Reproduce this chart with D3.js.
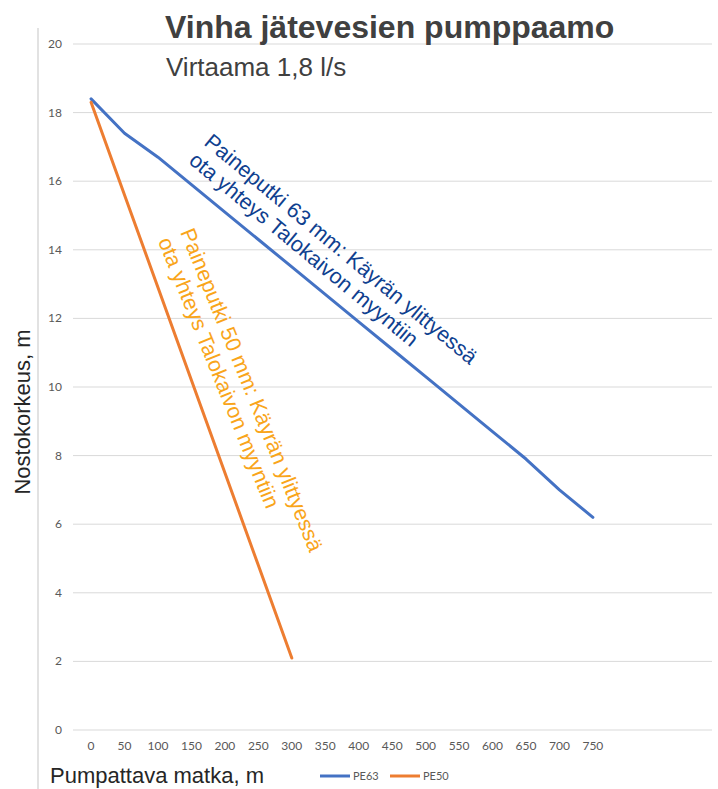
<!DOCTYPE html>
<html>
<head>
<meta charset="utf-8">
<title>Vinha jätevesien pumppaamo</title>
<style>
  body { margin: 0; padding: 0; background: #fff; }
  svg { display: block; }
</style>
</head>
<body>
<div id="chart"></div>
<script src="https://cdnjs.cloudflare.com/ajax/libs/d3/7.8.5/d3.min.js"></script>
<script>
// distances (m) and heads (m)
var distances = [0, 50, 100, 150, 200, 250, 300, 350, 400, 450, 500, 550, 600, 650, 700, 750];
var pe63 = [18.4, 17.4, 16.7, 15.9, 15.1, 14.3, 13.5, 12.7, 11.9, 11.1, 10.3, 9.5, 8.7, 7.9, 7.0, 6.2];
var pe50Distances = [0, 50, 100, 150, 200, 250, 300];
var pe50 = [18.3, 15.6, 12.9, 10.2, 7.5, 4.8, 2.1];
var yTicks = [0, 2, 4, 6, 8, 10, 12, 14, 16, 18, 20];
var seriesNames = ["PE63", "PE50"];

var width = 718, height = 789;
var blue = "#4472C4", orange = "#ED7D31";

var svg = d3.select("#chart").append("svg")
    .attr("width", width)
    .attr("height", height);

var x = d3.scaleLinear().domain([-27, 928]).range([73, 712]);
var y = d3.scaleLinear().domain([0, 20]).range([730, 44]);

// left frame line
svg.append("line")
    .attr("x1", 38).attr("x2", 38)
    .attr("y1", 28).attr("y2", height)
    .attr("stroke", "#d9d9d9").attr("stroke-width", 1.5);

// gridlines
svg.selectAll(".grid").data(yTicks).enter().append("line")
    .attr("x1", x(-27)).attr("x2", x(928))
    .attr("y1", function(d) { return y(d); })
    .attr("y2", function(d) { return y(d); })
    .attr("stroke", "#d9d9d9").attr("stroke-width", 1);

// y tick labels
svg.selectAll(".ylab").data(yTicks).enter().append("text")
    .attr("x", 62)
    .attr("y", function(d) { return y(d) + 4; })
    .attr("text-anchor", "end")
    .style("font", "12px Lato, 'Open Sans', sans-serif")
    .style("fill", "#595959")
    .text(function(d) { return d; });

// x tick labels
svg.selectAll(".xlab").data(distances).enter().append("text")
    .attr("x", function(d) { return x(d); })
    .attr("y", 750)
    .attr("text-anchor", "middle")
    .style("font", "12px Lato, 'Open Sans', sans-serif")
    .style("fill", "#595959")
    .text(function(d) { return d; });

var line = d3.line()
    .x(function(d) { return x(d[0]); })
    .y(function(d) { return y(d[1]); });

svg.append("path")
    .datum(d3.zip(distances, pe63))
    .attr("d", line)
    .attr("fill", "none")
    .attr("stroke", blue)
    .attr("stroke-width", 3)
    .attr("stroke-linejoin", "round")
    .attr("stroke-linecap", "round");

svg.append("path")
    .datum(d3.zip(pe50Distances, pe50))
    .attr("d", line)
    .attr("fill", "none")
    .attr("stroke", orange)
    .attr("stroke-width", 3)
    .attr("stroke-linejoin", "round")
    .attr("stroke-linecap", "round");

// titles
svg.append("text")
    .attr("x", 165).attr("y", 38)
    .style("font", "bold 32px 'Liberation Sans', Arial, sans-serif")
    .style("fill", "#404040")
    .text("Vinha jätevesien pumppaamo");

svg.append("text")
    .attr("x", 166).attr("y", 76)
    .style("font", "26px 'Liberation Sans', Arial, sans-serif")
    .style("fill", "#404040")
    .text("Virtaama 1,8 l/s");

svg.append("text")
    .attr("x", 50).attr("y", 783)
    .style("font", "22px 'Liberation Sans', Arial, sans-serif")
    .style("fill", "#262626")
    .text("Pumpattava matka, m");

svg.append("text")
    .attr("transform", "translate(30,412) rotate(-90)")
    .attr("text-anchor", "middle")
    .style("font", "22px 'Liberation Sans', Arial, sans-serif")
    .style("fill", "#262626")
    .text("Nostokorkeus, m");

// annotations
function note(px, py, angle, color, lines) {
  var g = svg.append("g")
      .attr("transform", "translate(" + px + "," + py + ") rotate(" + angle + ")");
  lines.forEach(function(t, i) {
    g.append("text")
        .attr("x", 0).attr("y", i * 24)
        .style("font", "21.5px 'Liberation Sans', Arial, sans-serif")
        .style("fill", color)
        .text(t);
  });
}
note(203, 144, 39.7, "#0F3F8F", ["Paineputki 63 mm: Käyrän ylittyessä", "ota yhteys Talokaivon myyntiin"]);
note(180, 232, 68, "#F9A51A", ["Paineputki 50 mm: Käyrän ylittyessä", "ota yhteys Talokaivon myyntiin"]);

// legend
var legend = svg.selectAll(".leg").data(seriesNames).enter().append("g")
    .attr("transform", function(d, i) { return "translate(" + (320 + i * 70) + ",776)"; });
legend.append("line")
    .attr("x1", 0).attr("x2", 30)
    .attr("stroke", function(d, i) { return i === 0 ? blue : orange; })
    .attr("stroke-width", 3);
legend.append("text")
    .attr("x", 33).attr("y", 4)
    .style("font", "11px Lato, 'Open Sans', sans-serif")
    .style("fill", "#595959")
    .text(function(d) { return d; });
</script>
</body>
</html>
